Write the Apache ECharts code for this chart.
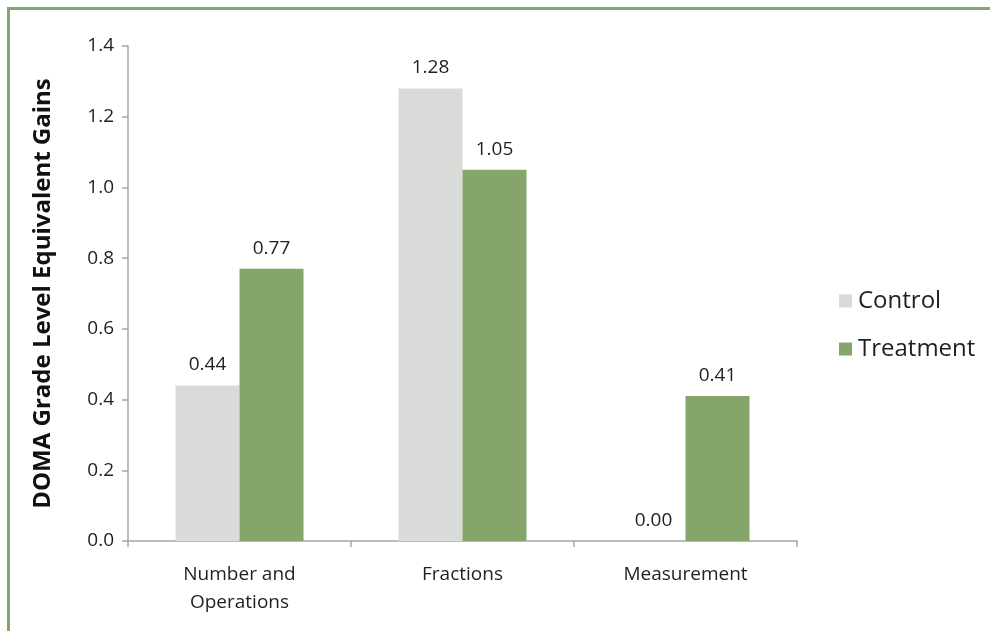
<!DOCTYPE html>
<html>
<head>
<meta charset="utf-8">
<script src="https://cdn.jsdelivr.net/npm/echarts@6/dist/echarts.min.js"></script>
<style>
  html, body { margin: 0; padding: 0; background: #fff; }
  #frame { position: absolute; left: 7px; top: 7px; width: 1000px; height: 640px;
           border-left: 3px solid #86a56b; border-top: 3px solid #86a56b; box-sizing: border-box; }
  #chart { position: absolute; left: 0; top: 0; width: 990px; height: 631px; }
</style>
</head>
<body>
<div id="frame"></div>
<div id="chart"></div>
<script>
const categories = ['Number and\nOperations', 'Fractions', 'Measurement'];
const controlValues = [0.44, 1.28, 0.00];
const treatmentValues = [0.77, 1.05, 0.41];
const seriesNames = ['Control', 'Treatment'];
const yTicks = { min: 0, max: 1.4, interval: 0.2 };

const font = '"Open Sans", "Noto Sans", sans-serif';
const axisGray = '#a6a6a6';

const chart = echarts.init(document.getElementById('chart'), null, { renderer: 'canvas' });

const labelStyle = {
  show: true,
  position: 'top',
  distance: 11,
  fontFamily: font,
  fontSize: 19,
  color: '#1f1f1f',
  formatter: p => p.value.toFixed(2)
};

chart.setOption({
  backgroundColor: 'transparent',
  animation: false,
  grid: { left: 128, right: 193, top: 46, bottom: 90 },
  legend: {
    orient: 'vertical',
    left: 834,
    top: 284,
    itemWidth: 13,
    itemHeight: 13,
    itemGap: 24,
    icon: 'rect',
    textStyle: { fontFamily: font, fontSize: 24, color: '#1f1f1f', padding: [0, 0, 0, 1] },
    data: seriesNames
  },
  xAxis: {
    type: 'category',
    data: categories,
    axisLine: { lineStyle: { color: axisGray, width: 1.5 } },
    axisTick: { show: true, length: 6, lineStyle: { color: axisGray, width: 1.5 } },
    axisLabel: { fontFamily: font, fontSize: 19, color: '#1f1f1f', margin: 20, lineHeight: 28 }
  },
  yAxis: {
    type: 'value',
    min: yTicks.min,
    max: yTicks.max,
    interval: yTicks.interval,
    name: 'DOMA Grade Level Equivalent Gains',
    nameLocation: 'middle',
    nameGap: 73,
    nameTextStyle: { fontFamily: font, fontSize: 24, fontWeight: 'bold', color: '#111' },
    axisLine: { show: true, lineStyle: { color: axisGray, width: 1.5 } },
    axisTick: { show: true, length: 6, lineStyle: { color: axisGray, width: 1.5 } },
    axisLabel: { fontFamily: font, fontSize: 19, color: '#1f1f1f', margin: 14, formatter: v => v.toFixed(1) },
    splitLine: { show: false }
  },
  series: [
    {
      name: seriesNames[0],
      type: 'bar',
      data: controlValues,
      barGap: '0%',
      barCategoryGap: '42.6%',
      itemStyle: { color: '#d9dbd9' },
      label: labelStyle
    },
    {
      name: seriesNames[1],
      type: 'bar',
      data: treatmentValues,
      barGap: '0%',
      barCategoryGap: '42.6%',
      itemStyle: { color: '#86a56b' },
      label: labelStyle
    }
  ]
});
</script>
</body>
</html>
